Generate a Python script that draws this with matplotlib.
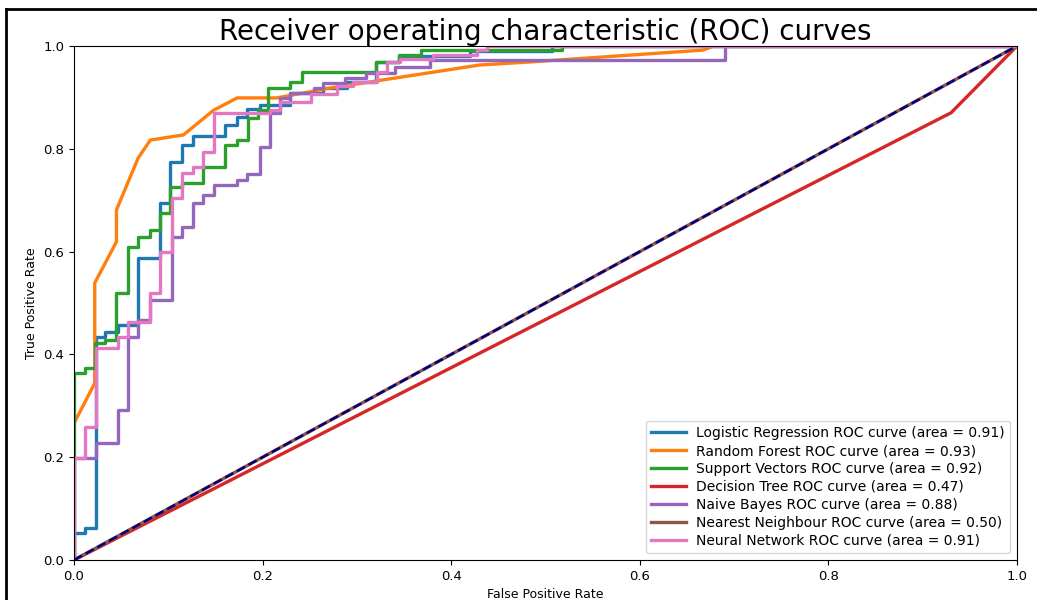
import numpy as np
import matplotlib
matplotlib.use('Agg')
import matplotlib.pyplot as plt
from matplotlib.lines import Line2D


names = ['Logistic Regression', 'Random Forest', 'Support Vectors', 'Decision Tree',
         'Naive Bayes', 'Nearest Neighbour', 'Neural Network']
areas = [0.91, 0.93, 0.92, 0.47, 0.88, 0.50, 0.91]

# roc corner points (fpr, tpr) for each classifier
lr_fpr = [0, 0, 0.012, 0.012, 0.023, 0.023, 0.033, 0.033, 0.047, 0.047, 0.056, 0.056,
          0.068, 0.068, 0.091, 0.091, 0.102, 0.102, 0.114, 0.114, 0.126, 0.126, 0.160, 0.160,
          0.173, 0.173, 0.183, 0.183, 0.197, 0.197, 0.229, 0.229, 0.264, 0.264, 0.29, 0.29,
          0.32, 0.32, 0.345, 0.345, 0.42, 0.42, 0.507, 0.507, 1.0]
lr_tpr = [0, 0.052, 0.052, 0.062, 0.062, 0.434, 0.434, 0.444, 0.444, 0.457, 0.457, 0.457,
          0.457, 0.588, 0.588, 0.694, 0.694, 0.774, 0.774, 0.807, 0.807, 0.825, 0.825, 0.846,
          0.846, 0.862, 0.862, 0.877, 0.877, 0.885, 0.885, 0.908, 0.908, 0.918, 0.918, 0.93,
          0.93, 0.969, 0.969, 0.98, 0.98, 0.99, 0.99, 1.0, 1.0]

rf_fpr = [0, 0, 0.022, 0.022, 0.045, 0.045, 0.068, 0.081, 0.116, 0.148, 0.173, 0.215,
          0.271, 0.43, 0.484, 0.667, 0.678, 1.0]
rf_tpr = [0, 0.266, 0.344, 0.539, 0.619, 0.681, 0.782, 0.817, 0.827, 0.875, 0.899, 0.899,
          0.918, 0.963, 0.969, 0.992, 1.0, 1.0]

sv_fpr = [0, 0, 0.012, 0.012, 0.022, 0.022, 0.033, 0.033, 0.045, 0.045, 0.057, 0.057,
          0.068, 0.068, 0.081, 0.081, 0.091, 0.091, 0.102, 0.102, 0.114, 0.114, 0.137, 0.137,
          0.160, 0.160, 0.173, 0.173, 0.185, 0.185, 0.195, 0.195, 0.206, 0.206, 0.229, 0.229,
          0.242, 0.242, 0.32, 0.32, 0.345, 0.345, 0.368, 0.368, 0.517, 0.517, 1.0]
sv_tpr = [0, 0.364, 0.364, 0.373, 0.373, 0.422, 0.422, 0.428, 0.428, 0.519, 0.519, 0.609,
          0.609, 0.628, 0.628, 0.642, 0.642, 0.675, 0.675, 0.725, 0.725, 0.733, 0.733, 0.765,
          0.765, 0.807, 0.807, 0.817, 0.817, 0.86, 0.86, 0.875, 0.875, 0.918, 0.918, 0.93,
          0.93, 0.949, 0.949, 0.969, 0.969, 0.982, 0.982, 0.992, 0.992, 1.0, 1.0]

dt_fpr = [0, 0.93, 1.0]
dt_tpr = [0, 0.87, 1.0]

nb_fpr = [0, 0, 0.023, 0.023, 0.047, 0.047, 0.057, 0.057, 0.068, 0.068, 0.081, 0.081,
          0.104, 0.104, 0.114, 0.114, 0.126, 0.126, 0.137, 0.137, 0.148, 0.148, 0.173, 0.173,
          0.183, 0.183, 0.197, 0.197, 0.208, 0.208, 0.218, 0.218, 0.229, 0.229, 0.254, 0.254,
          0.264, 0.264, 0.287, 0.287, 0.31, 0.31, 0.34, 0.34, 0.378, 0.378, 0.69, 0.69, 1.0]
nb_tpr = [0, 0.198, 0.198, 0.228, 0.228, 0.292, 0.292, 0.434, 0.434, 0.466, 0.466, 0.506,
          0.506, 0.628, 0.628, 0.648, 0.648, 0.694, 0.694, 0.71, 0.71, 0.73, 0.73, 0.739,
          0.739, 0.751, 0.751, 0.804, 0.804, 0.87, 0.87, 0.899, 0.899, 0.908, 0.908, 0.918,
          0.918, 0.928, 0.928, 0.938, 0.938, 0.947, 0.947, 0.959, 0.959, 0.973, 0.973, 1.0, 1.0]

knn_fpr = [0, 1.0]
knn_tpr = [0, 1.0]

nn_fpr = [0, 0, 0.012, 0.012, 0.023, 0.023, 0.047, 0.047, 0.057, 0.057, 0.081, 0.081,
          0.091, 0.091, 0.104, 0.104, 0.114, 0.114, 0.126, 0.126, 0.137, 0.137, 0.148, 0.148,
          0.208, 0.208, 0.218, 0.218, 0.251, 0.251, 0.279, 0.279, 0.296, 0.296, 0.321, 0.321,
          0.332, 0.332, 0.346, 0.346, 0.381, 0.381, 0.427, 0.427, 0.438, 0.438, 1.0]
nn_tpr = [0, 0.198, 0.198, 0.259, 0.259, 0.412, 0.412, 0.434, 0.434, 0.463, 0.463, 0.519,
          0.519, 0.599, 0.599, 0.704, 0.704, 0.753, 0.753, 0.765, 0.765, 0.794, 0.794, 0.87,
          0.87, 0.875, 0.875, 0.891, 0.891, 0.907, 0.907, 0.922, 0.922, 0.93, 0.93, 0.949,
          0.949, 0.969, 0.969, 0.975, 0.975, 0.982, 0.982, 0.992, 0.992, 1.0, 1.0]

curves = [(lr_fpr, lr_tpr), (rf_fpr, rf_tpr), (sv_fpr, sv_tpr), (dt_fpr, dt_tpr),
          (nb_fpr, nb_tpr), (knn_fpr, knn_tpr), (nn_fpr, nn_tpr)]


def main():
    fig = plt.figure(figsize=(10.37, 6.0), dpi=100)
    ax = fig.add_axes([74 / 1037, 40 / 600, 943 / 1037, 514 / 600])

    for (fpr, tpr), name, area in zip(curves, names, areas):
        ax.plot(fpr, tpr, lw=2.4, label=f'{name} ROC curve (area = {area:.2f})')
    ax.plot([0, 1], [0, 1], color='navy', lw=1.8, linestyle='--')

    ax.set_xlim(0.0, 1.0)
    ax.set_ylim(0.0, 1.0)
    ax.tick_params(labelsize=9.5)
    ax.set_xlabel('False Positive Rate', fontsize=9)
    ax.set_ylabel('True Positive Rate', fontsize=9)
    ax.set_title('Receiver operating characteristic (ROC) curves', fontsize=20, pad=0)
    ax.legend(loc='lower right', fontsize=10, labelspacing=0.28,
              handlelength=2.5, handletextpad=0.7, borderaxespad=0.5)

    # frame of the screenshot, top and left edges
    fig.add_artist(Line2D([6 / 1037, 1.0], [1 - 9 / 600, 1 - 9 / 600], color='black', lw=2))
    fig.add_artist(Line2D([6 / 1037, 6 / 1037], [0.0, 1 - 9 / 600], color='black', lw=2))

    fig.savefig('out.png', dpi=100)


if __name__ == '__main__':
    main()
